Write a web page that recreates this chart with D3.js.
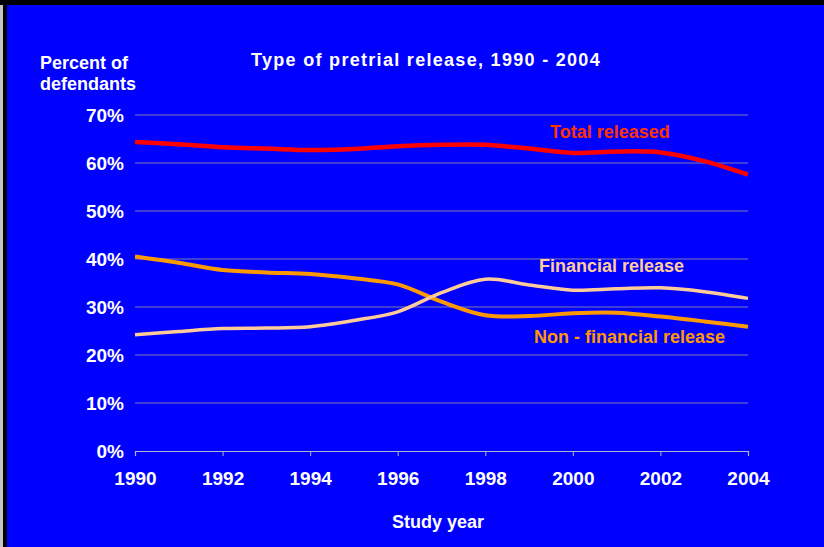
<!DOCTYPE html>
<html>
<head>
<meta charset="utf-8">
<script src="https://cdnjs.cloudflare.com/ajax/libs/d3/7.8.5/d3.min.js"></script>
<style>
    html, body {margin:0;padding:0;background:#000;}
    svg {display:block;}
    text {font-family:"Liberation Sans", Arial, sans-serif;font-weight:bold;}
</style>
</head>
<body>
<div id="chart"></div>
<script>
// data (percent of defendants)
const years = [1990,1991,1992,1993,1994,1995,1996,1997,1998,1999,2000,2001,2002,2003,2004];
const totalReleased = [64.4,63.9,63.3,63.0,62.7,62.9,63.5,63.8,63.8,63.0,62.1,62.4,62.2,60.4,57.6];
const financialRelease = [24.2,24.9,25.5,25.6,25.9,27.2,29.0,33.0,35.8,34.6,33.5,33.8,34.0,33.2,31.8];
const nonFinancialRelease = [40.5,39.2,37.7,37.2,36.9,36.0,34.7,31.1,28.3,28.1,28.7,28.8,28.0,27.0,25.9];
const yTicks = [0,10,20,30,40,50,60,70];
const xTicks = [1990,1992,1994,1996,1998,2000,2002,2004];

const W = 824, H = 547;

let svg = d3.select("#chart").append("svg")
    .attr("width",W).attr("height",H);

// frame: black top and left edge, thin gray strip at far left
svg.append("rect").attr("width",W).attr("height",H).attr("fill","#000");
svg.append("rect").attr("x",0).attr("y",5).attr("width",3).attr("height",H-5).attr("fill","#c4c4c4");
svg.append("rect").attr("x",7).attr("y",5).attr("width",W-7).attr("height",H-5).attr("fill","#0000ff");

let x = d3.scaleLinear().domain([1990,2004]).range([135,748]);
let y = d3.scaleLinear().domain([0,70]).range([451,115]);

// gridlines
svg.append("g").selectAll("line")
    .data(yTicks.filter(d => d > 0))
    .join("line")
    .attr("x1",x(1990)).attr("x2",x(2004))
    .attr("y1",d => y(d)).attr("y2",d => y(d))
    .attr("stroke","#7f7fb0").attr("stroke-width",1);

// x axis
let xAxis = d3.axisBottom(x).tickValues(xTicks).tickSize(5).tickFormat(d3.format("d"));
let gx = svg.append("g").attr("transform","translate(0," + y(0) + ")").call(xAxis);
gx.select(".domain").attr("stroke","#b4b4d8").attr("stroke-width",1.2);
gx.selectAll(".tick line").attr("stroke","#b4b4d8");
gx.selectAll(".tick text")
    .attr("fill","#fff").attr("font-size",19).attr("font-family",null)
    .attr("y",34).attr("dy",0);

// y axis labels
let yAxis = d3.axisLeft(y).tickValues(yTicks).tickSize(0).tickPadding(11).tickFormat(d => d + "%");
let gy = svg.append("g").attr("transform","translate(" + x(1990) + ",0)").call(yAxis);
gy.select(".domain").remove();
gy.selectAll(".tick text")
    .attr("fill","#fff").attr("font-size",19).attr("font-family",null)
    .attr("dy","0.36em");

// series lines, smoothed like the original
let line = d3.line()
    .x((d,i) => x(years[i]))
    .y(d => y(d))
    .curve(d3.curveCatmullRom.alpha(0.5));

let series = [
    {values:nonFinancialRelease, color:"#ff9900", width:4},
    {values:financialRelease, color:"#ffcc99", width:3.5},
    {values:totalReleased, color:"#ff0000", width:4.5}
];
svg.append("g").selectAll("path")
    .data(series)
    .join("path")
    .attr("d",d => line(d.values))
    .attr("fill","none")
    .attr("stroke",d => d.color)
    .attr("stroke-width",d => d.width)
    .attr("stroke-linejoin","round");

// series labels
svg.append("text").attr("x",550).attr("y",138).attr("font-size",18)
    .attr("fill","#ff3300").text("Total released");
svg.append("text").attr("x",539).attr("y",272).attr("font-size",18)
    .attr("fill","#ffcc99").text("Financial release");
svg.append("text").attr("x",534).attr("y",343).attr("font-size",18)
    .attr("fill","#ff9900").text("Non - financial release");

// titles
svg.append("text").attr("x",426).attr("y",66).attr("font-size",18)
    .attr("text-anchor","middle").attr("letter-spacing",1.3)
    .attr("fill","#fff").text("Type of pretrial release, 1990 - 2004");
svg.append("text").attr("x",40).attr("y",69).attr("font-size",18)
    .attr("fill","#fff").text("Percent of");
svg.append("text").attr("x",40).attr("y",90).attr("font-size",18)
    .attr("fill","#fff").text("defendants");
svg.append("text").attr("x",438).attr("y",528).attr("font-size",18)
    .attr("text-anchor","middle")
    .attr("fill","#fff").text("Study year");
</script>
</body>
</html>
